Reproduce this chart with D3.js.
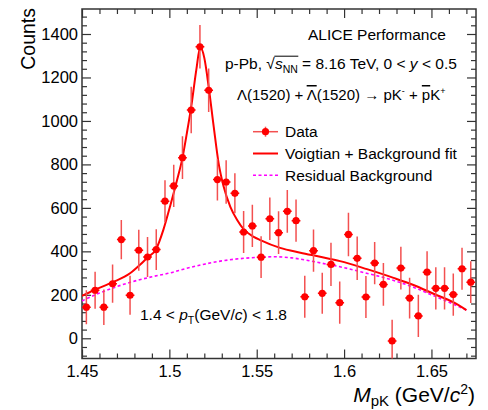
<!DOCTYPE html>
<html>
<head>
<meta charset="utf-8">
<script src="https://cdn.jsdelivr.net/npm/d3@7"></script>
<style>
  html, body { margin: 0; padding: 0; background: #fff; }
  svg { display: block; font-family: "Liberation Sans", Arial, Helvetica, sans-serif; }
</style>
</head>
<body>
<div id="chart"></div>
<script>
// bin centres of the pK invariant mass histogram (GeV/c^2)
const massBins = [
  1.4525, 1.4575, 1.4625, 1.4675, 1.4725, 1.4775, 1.4825, 1.4875, 1.4925, 1.4975,
  1.5025, 1.5075, 1.5125, 1.5175, 1.5225, 1.5275, 1.5325, 1.5375, 1.5425, 1.5475,
  1.5525, 1.5575, 1.5625, 1.5675, 1.5725, 1.5775, 1.5825, 1.5875, 1.5925, 1.5975,
  1.6025, 1.6075, 1.6125, 1.6175, 1.6225, 1.6275, 1.6325, 1.6375, 1.6425, 1.6475,
  1.6525, 1.6575, 1.6625, 1.6675, 1.6725,
];
const counts = [
  143, 221, 143, 251, 454, 198, 405, 374, 408, 631,
  701, 831, 1050, 1341, 1141, 730, 719, 667, 489, 517,
  373, 550, 486, 584, 541, 191, 403, 207, 340, 164,
  478, 368, 190, 346, 248, -12, 323, 185, 103, 304,
  230, 230, 201, 320, 258,
];
const countErrors = [
  78, 85, 82, 88, 90, 90, 94, 92, 94, 96,
  97, 98, 107, 100, 100, 96, 100, 92, 97, 97,
  96, 98, 98, 98, 97, 97, 97, 94, 100, 97,
  100, 100, 97, 97, 98, 97, 98, 94, 97, 96,
  97, 97, 97, 97, 96,
];
const binHalfWidth = 0.0025;

// Voigtian + background fit
const fitMass = [
  1.450, 1.457, 1.4676, 1.4775, 1.4832, 1.4874, 1.4924, 1.4966, 1.5005, 1.5043,
  1.5075, 1.510, 1.5128, 1.5154, 1.5177, 1.5200, 1.5225, 1.5254, 1.5282, 1.5311,
  1.5349, 1.5388, 1.5426, 1.5483, 1.5521, 1.5634, 1.575, 1.5863, 1.5977, 1.6131,
  1.6283, 1.6397, 1.6512, 1.6627, 1.670,
];
const fitCounts = [
  195, 222, 258, 299, 338, 371, 410, 500, 610, 725,
  830, 943, 1081, 1234, 1340, 1290, 1157, 973, 805, 697,
  605, 544, 501, 467, 452, 416, 394, 375, 355, 318,
  278, 245, 205, 165, 130,
];

// residual background
const bkgMass = [
  1.45, 1.46, 1.47, 1.48, 1.49, 1.50, 1.51, 1.52, 1.53, 1.54, 1.55, 1.56,
  1.57, 1.58, 1.59, 1.60, 1.61, 1.62, 1.63, 1.64, 1.65, 1.66, 1.67,
];
const bkgCounts = [
  172, 208, 238, 263, 283, 300, 322, 341, 356, 366, 372, 375,
  370, 357, 341, 325, 305, 285, 262, 234, 200, 166, 130,
];

const xTicks = [1.45, 1.5, 1.55, 1.6, 1.65];
const xTickLabels = ["1.45", "1.5", "1.55", "1.6", "1.65"];
const yTicks = [0, 200, 400, 600, 800, 1000, 1200, 1400];
const yTickLabels = ["0", "200", "400", "600", "800", "1000", "1200", "1400"];

const width = 488;
const height = 410;
const frame = { left: 82, right: 476, top: 9, bottom: 358.5 };
const red = "#ff0000";
const errColor = "#f35050";
const magenta = "#ff00ff";
const axisColor = "#333";

const svg = d3.select("#chart").append("svg")
  .attr("width", width)
  .attr("height", height)
  .attr("viewBox", `0 0 ${width} ${height}`);

svg.append("rect").attr("width", width).attr("height", height).attr("fill", "#fff");

const x = d3.scaleLinear().domain([1.45, 1.6755]).range([frame.left, frame.right]);
const y = d3.scaleLinear().domain([-93, 1515]).range([frame.bottom, frame.top]);

svg.append("clipPath").attr("id", "plot-clip")
  .append("rect")
  .attr("x", frame.left).attr("y", frame.top)
  .attr("width", frame.right - frame.left)
  .attr("height", frame.bottom - frame.top);

const xMinor = d3.range(1.46, 1.676, 0.01).filter((v) => !xTicks.some((t) => Math.abs(t - v) < 1e-6));
const yMinor = d3.range(-80, 1520, 40).filter((v) => v % 200 !== 0);

function styleAxis(g) {
  g.select(".domain").remove();
  g.selectAll("line").attr("stroke", axisColor).attr("stroke-width", 1.2);
  g.selectAll("text").attr("fill", "#000").attr("font-size", 16.5)
    .attr("font-family", "Liberation Sans, Arial, Helvetica, sans-serif");
}

// bottom
svg.append("g").attr("transform", `translate(0,${frame.bottom})`)
  .call(d3.axisBottom(x).tickValues(xTicks).tickSize(-9).tickPadding(7)
    .tickFormat((d, i) => xTickLabels[i]))
  .call(styleAxis);
svg.append("g").attr("transform", `translate(0,${frame.bottom})`)
  .call(d3.axisBottom(x).tickValues(xMinor).tickSize(-5).tickFormat(""))
  .call(styleAxis);
// top
svg.append("g").attr("transform", `translate(0,${frame.top})`)
  .call(d3.axisTop(x).tickValues(xTicks).tickSize(-9).tickFormat(""))
  .call(styleAxis);
svg.append("g").attr("transform", `translate(0,${frame.top})`)
  .call(d3.axisTop(x).tickValues(xMinor).tickSize(-5).tickFormat(""))
  .call(styleAxis);
// left
svg.append("g").attr("transform", `translate(${frame.left},0)`)
  .call(d3.axisLeft(y).tickValues(yTicks).tickSize(-9).tickPadding(4)
    .tickFormat((d, i) => yTickLabels[i]))
  .call(styleAxis);
svg.append("g").attr("transform", `translate(${frame.left},0)`)
  .call(d3.axisLeft(y).tickValues(yMinor).tickSize(-5).tickFormat(""))
  .call(styleAxis);
// right
svg.append("g").attr("transform", `translate(${frame.right},0)`)
  .call(d3.axisRight(y).tickValues(yTicks).tickSize(-9).tickFormat(""))
  .call(styleAxis);
svg.append("g").attr("transform", `translate(${frame.right},0)`)
  .call(d3.axisRight(y).tickValues(yMinor).tickSize(-5).tickFormat(""))
  .call(styleAxis);

svg.append("rect")
  .attr("x", frame.left).attr("y", frame.top)
  .attr("width", frame.right - frame.left)
  .attr("height", frame.bottom - frame.top)
  .attr("fill", "none")
  .attr("stroke", axisColor)
  .attr("stroke-width", 1.5);

const plot = svg.append("g").attr("clip-path", "url(#plot-clip)");

const points = massBins.map((m, i) => ({ m, v: counts[i], e: countErrors[i] }));

// background
plot.append("path")
  .datum(bkgMass.map((m, i) => [m, bkgCounts[i]]))
  .attr("fill", "none")
  .attr("stroke", magenta)
  .attr("stroke-width", 1.6)
  .attr("stroke-dasharray", "3,2.5")
  .attr("d", d3.line().x((d) => x(d[0])).y((d) => y(d[1])).curve(d3.curveMonotoneX));

// fit
plot.append("path")
  .datum(fitMass.map((m, i) => [m, fitCounts[i]]))
  .attr("fill", "none")
  .attr("stroke", red)
  .attr("stroke-width", 2)
  .attr("d", d3.line().x((d) => x(d[0])).y((d) => y(d[1])).curve(d3.curveMonotoneX));

// error bars
plot.selectAll("line.err")
  .data(points)
  .enter()
  .append("line")
  .attr("class", "err")
  .attr("x1", (d) => x(d.m)).attr("x2", (d) => x(d.m))
  .attr("y1", (d) => y(d.v - d.e)).attr("y2", (d) => y(d.v + d.e))
  .attr("stroke", errColor)
  .attr("stroke-width", 1.5);

plot.selectAll("line.xerr")
  .data(points)
  .enter()
  .append("line")
  .attr("class", "xerr")
  .attr("x1", (d) => x(d.m - binHalfWidth)).attr("x2", (d) => x(d.m + binHalfWidth))
  .attr("y1", (d) => y(d.v)).attr("y2", (d) => y(d.v))
  .attr("stroke", red)
  .attr("stroke-width", 1.5);

plot.selectAll("circle.pt")
  .data(points)
  .enter()
  .append("circle")
  .attr("class", "pt")
  .attr("cx", (d) => x(d.m))
  .attr("cy", (d) => y(d.v))
  .attr("r", 3.6)
  .attr("fill", red);

// axis titles
svg.append("text")
  .attr("transform", "translate(35,8) rotate(-90)")
  .attr("text-anchor", "end")
  .attr("font-size", 19.5)
  .text("Counts");

const xTitle = svg.append("text")
  .attr("x", 475).attr("y", 402)
  .attr("text-anchor", "end")
  .attr("font-size", 21);
xTitle.append("tspan").attr("font-style", "italic").text("M");
xTitle.append("tspan").attr("font-size", 15).attr("dy", 4).text("pK");
xTitle.append("tspan").attr("dy", -4).text(" (GeV/");
xTitle.append("tspan").attr("font-style", "italic").text("c");
xTitle.append("tspan").attr("font-size", 14).attr("dy", -8).text("2");
xTitle.append("tspan").attr("dy", 8).text(")");

// annotations
const fs = 15.5;
svg.append("text").attr("x", 308).attr("y", 40).attr("font-size", fs).text("ALICE Performance");

const sys = svg.append("text").attr("x", 225).attr("y", 69).attr("font-size", fs);
sys.append("tspan").text("p-Pb, √");
const sTspan = sys.append("tspan").attr("font-style", "italic").text("s");
const nnTspan = sys.append("tspan").attr("font-size", 10.5).attr("dy", 4).text("NN");
sys.append("tspan").attr("dy", -4).text(" = 8.16 TeV, 0 < ");
sys.append("tspan").attr("font-style", "italic").text("y");
sys.append("tspan").text(" < 0.5");

// radical bar over s_NN
const barStart = sTspan.node().getStartPositionOfChar(0).x - 0.5;
const nnNode = nnTspan.node();
const barEnd = nnNode.getStartPositionOfChar(1).x + nnNode.getSubStringLength(1, 1) + 0.5;
svg.append("line")
  .attr("x1", barStart).attr("x2", barEnd)
  .attr("y1", 69 - 12.8).attr("y2", 69 - 12.8)
  .attr("stroke", "#000").attr("stroke-width", 1);

const decay = svg.append("text").attr("x", 237).attr("y", 100).attr("font-size", 15);
decay.append("tspan").text("Λ(1520) + ");
decay.append("tspan").attr("text-decoration", "overline").text("Λ");
decay.append("tspan").text("(1520) → pK");
decay.append("tspan").attr("font-size", 9).attr("dy", -6).text("-");
decay.append("tspan").attr("dy", 6).text(" + ");
decay.append("tspan").attr("text-decoration", "overline").text("p");
decay.append("tspan").text("K");
decay.append("tspan").attr("font-size", 9).attr("dy", -6).text("+");

const pt = svg.append("text").attr("x", 140).attr("y", 320).attr("font-size", fs);
pt.append("tspan").text("1.4 < ");
pt.append("tspan").attr("font-style", "italic").text("p");
pt.append("tspan").attr("font-size", 10.5).attr("dy", 4).text("T");
pt.append("tspan").attr("dy", -4).text("(GeV/");
pt.append("tspan").attr("font-style", "italic").text("c");
pt.append("tspan").text(") < 1.8");

// legend
const legendItems = ["Data", "Voigtian + Background fit", "Residual Background"];
const legendY = [131.7, 153.5, 175.3];
const lx0 = 253, lx1 = 278, lxm = 265.5;
const legend = svg.append("g");
legend.append("line").attr("x1", lx0).attr("x2", lx1).attr("y1", legendY[0]).attr("y2", legendY[0])
  .attr("stroke", errColor).attr("stroke-width", 1.5);
legend.append("line").attr("x1", lxm).attr("x2", lxm).attr("y1", legendY[0] - 5).attr("y2", legendY[0] + 5)
  .attr("stroke", errColor).attr("stroke-width", 1.5);
legend.append("circle").attr("cx", lxm).attr("cy", legendY[0]).attr("r", 3.6).attr("fill", red);
legend.append("line").attr("x1", lx0).attr("x2", lx1).attr("y1", legendY[1]).attr("y2", legendY[1])
  .attr("stroke", red).attr("stroke-width", 2);
legend.append("line").attr("x1", lx0).attr("x2", lx1).attr("y1", legendY[2]).attr("y2", legendY[2])
  .attr("stroke", magenta).attr("stroke-width", 1.6).attr("stroke-dasharray", "3,2.5");
legend.selectAll("text")
  .data(legendItems)
  .enter()
  .append("text")
  .attr("x", 285)
  .attr("y", (d, i) => legendY[i] + 5.3)
  .attr("font-size", fs)
  .text((d) => d);
</script>
</body>
</html>
